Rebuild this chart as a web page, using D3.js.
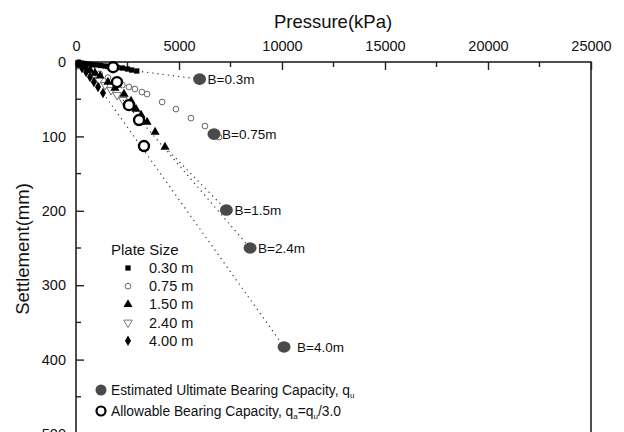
<!DOCTYPE html>
<html lang="en">
<head>
<meta charset="utf-8">
<title>Plate load test</title>
<script src="https://d3js.org/d3.v7.min.js"></script>
<style>
  body { margin: 0; background: #fff; }
  text { font-family: "Liberation Sans", Arial, sans-serif; fill: #111; }
</style>
</head>
<body>
<script>
// ---- data (pressure in kPa, settlement in mm) ----
var plateSizes = ["0.30 m", "0.75 m", "1.50 m", "2.40 m", "4.00 m"];

var p030 = [100, 250, 400, 600, 800, 1000, 1200, 1400, 1550, 1750, 2000, 2250, 2500, 2700, 2950];
var s030 = [0.7, 1.3, 2.0, 2.7, 3.4, 4.0, 4.7, 5.4, 6.1, 6.7, 7.4, 8.1, 9.4, 10.8, 12.1];

var p075 = [400, 800, 1150, 1550, 1900, 2250, 2570, 2860, 3200, 3450, 4180, 4850, 5580, 6260, 6940];
var s075 = [5, 11, 16, 21, 27, 31, 33.6, 36.3, 40.4, 43.1, 53.8, 63.3, 75.4, 86.1, 101];

var p150 = [190, 440, 680, 920, 1170, 1550, 1890, 2330, 2670, 2910, 3160, 3450, 3840, 4320];
var s150 = [2.7, 6.7, 10.8, 14.8, 18.8, 26.9, 35.0, 43.1, 52.5, 63.3, 71.3, 80.8, 94.2, 114.4];

var p240 = [290, 530, 830, 1120, 1410, 1700, 1990, 2280];
var s240 = [5.4, 10.8, 17.5, 24.2, 31.0, 37.7, 44.4, 51.1];

var p400 = [100, 290, 490, 680, 870, 1070, 1310];
var s400 = [2.7, 8.1, 13.5, 20.2, 26.9, 33.6, 41.7];

var quLabels = ["B=0.3m", "B=0.75m", "B=1.5m", "B=2.4m", "B=4.0m"];
var quP = [6000, 6700, 7300, 8450, 10100];
var quS = [23, 97, 199, 250, 383];

var qaP = [1800, 1990, 2570, 3060, 3300];
var qaS = [7, 27, 58, 78, 113];

var xTicks = [0, 5000, 10000, 15000, 20000, 25000];
var yTicks = [0, 100, 200, 300, 400, 500];

// ---- svg ----
var w = 624, h = 432;
var svg = d3.select("body").append("svg").attr("width", w).attr("height", h);

var margin = {left: 76, right: 33, top: 62, bottom: -2};
var x = d3.scaleLinear().domain([0, 25000]).range([margin.left, w - margin.right]);
var y = d3.scaleLinear().domain([0, 500]).range([margin.top, h - margin.bottom]);

// frame
svg.append("rect")
  .attr("x", x(0)).attr("y", y(0))
  .attr("width", x(25000) - x(0)).attr("height", y(500) - y(0))
  .attr("fill", "none").attr("stroke", "#222").attr("stroke-width", 1.6);

// axes with inward ticks
var xAxis = d3.axisTop(x).tickValues(xTicks).tickSizeInner(-8).tickSizeOuter(0).tickPadding(11)
  .tickFormat(d3.format("d"));
var gx = svg.append("g").attr("transform", "translate(0," + y(0) + ")").call(xAxis);
gx.append("g").selectAll("line").data(d3.range(2500, 25000, 5000)).join("line")
  .attr("x1", function(d) { return x(d); }).attr("x2", function(d) { return x(d); })
  .attr("y1", 0).attr("y2", 5).attr("stroke", "#222").attr("stroke-width", 1.4);

var yAxis = d3.axisLeft(y).tickValues(yTicks).tickSizeInner(-8).tickSizeOuter(0).tickPadding(10);
var gy = svg.append("g").attr("transform", "translate(" + x(0) + ",0)").call(yAxis);
gy.append("g").selectAll("line").data(d3.range(50, 500, 100)).join("line")
  .attr("y1", function(d) { return y(d); }).attr("y2", function(d) { return y(d); })
  .attr("x1", 0).attr("x2", 5).attr("stroke", "#222").attr("stroke-width", 1.4);

[gx, gy].forEach(function(g) {
  g.select(".domain").remove();
  g.selectAll(".tick line").attr("stroke", "#222").attr("stroke-width", 1.4);
  g.selectAll(".tick text").attr("font-size", 14.5).attr("fill", "#111")
    .attr("font-family", "Liberation Sans, Arial, sans-serif");
});

// titles
svg.append("text").attr("x", 333).attr("y", 28).attr("text-anchor", "middle")
  .attr("font-size", 18.5).text("Pressure(kPa)");
svg.append("text").attr("transform", "translate(29,249) rotate(-90)").attr("text-anchor", "middle")
  .attr("font-size", 18.5).text("Settlement(mm)");

// dotted guide lines: last measured point -> ultimate capacity
var lastPts = [[p030, s030], [p075, s075], [p150, s150], [p240, s240], [p400, s400]];
lastPts.forEach(function(ser, i) {
  if (i === 1) return;
  var n = ser[0].length - 1;
  svg.append("line")
    .attr("x1", x(ser[0][n])).attr("y1", y(ser[1][n]))
    .attr("x2", x(quP[i])).attr("y2", y(quS[i]))
    .attr("stroke", "#333").attr("stroke-width", 1.2).attr("stroke-dasharray", "1.2,4");
});

// symbols
var sym = {
  square: d3.symbol().type(d3.symbolSquare).size(28),
  circle: d3.symbol().type(d3.symbolCircle).size(26),
  tri: d3.symbol().type(d3.symbolTriangle).size(36),
  triDown: d3.symbol().type(d3.symbolTriangle).size(32),
  diamond: d3.symbol().type(d3.symbolDiamond).size(32)
};
var styles = [
  {s: sym.square, fill: "#000", stroke: "none", rot: 0},
  {s: sym.circle, fill: "#fff", stroke: "#666", rot: 0},
  {s: sym.tri, fill: "#000", stroke: "none", rot: 0},
  {s: sym.triDown, fill: "none", stroke: "#777", rot: 180},
  {s: sym.diamond, fill: "#000", stroke: "none", rot: 0}
];

function drawSeries(ps, ss, st) {
  svg.append("g").selectAll("path").data(ps).join("path")
    .attr("d", st.s)
    .attr("transform", function(d, i) { return "translate(" + x(d) + "," + y(ss[i]) + ") rotate(" + st.rot + ")"; })
    .attr("fill", st.fill).attr("stroke", st.stroke).attr("stroke-width", 1);
}
drawSeries(p075, s075, styles[1]);
drawSeries(p240, s240, styles[3]);
drawSeries(p150, s150, styles[2]);
drawSeries(p400, s400, styles[4]);
drawSeries(p030, s030, styles[0]);

// allowable capacity (open circles)
svg.append("g").selectAll("circle").data(qaP).join("circle")
  .attr("cx", function(d) { return x(d); })
  .attr("cy", function(d, i) { return y(qaS[i]); })
  .attr("r", 5).attr("fill", "#fff").attr("stroke", "#000").attr("stroke-width", 2.4);

// ultimate capacity (filled grey)
svg.append("g").selectAll("ellipse").data(quP).join("ellipse")
  .attr("cx", function(d) { return x(d); })
  .attr("cy", function(d, i) { return y(quS[i]); })
  .attr("rx", 6.5).attr("ry", 5.8).attr("fill", "#4a4a4a");
svg.append("g").selectAll("text").data(quLabels).join("text")
  .attr("x", function(d, i) { return x(quP[i]) + (i === 4 ? 13 : 8); })
  .attr("y", function(d, i) { return y(quS[i]) + 5; })
  .attr("font-size", 13.5).text(function(d) { return d; });

// legend: plate size
var lg = svg.append("g");
lg.append("text").attr("x", 111).attr("y", 255).attr("font-size", 15).text("Plate Size");
plateSizes.forEach(function(lab, i) {
  var ly = 268 + i * 18.2;
  var st = styles[i];
  lg.append("path").attr("d", st.s)
    .attr("transform", "translate(128," + ly + ") rotate(" + st.rot + ")")
    .attr("fill", st.fill).attr("stroke", st.stroke).attr("stroke-width", 1);
  lg.append("text").attr("x", 149).attr("y", ly + 5).attr("font-size", 14.5).text(lab);
});

// legend: capacities
lg.append("circle").attr("cx", 101).attr("cy", 390).attr("r", 5.5).attr("fill", "#4a4a4a");
var t1 = lg.append("text").attr("x", 111).attr("y", 395).attr("font-size", 13.8);
t1.append("tspan").text("Estimated Ultimate Bearing Capacity, q");
t1.append("tspan").attr("font-size", 8).attr("dy", 3).text("u");

lg.append("circle").attr("cx", 101).attr("cy", 411).attr("r", 4.5).attr("fill", "#fff")
  .attr("stroke", "#000").attr("stroke-width", 2.2);
var t2 = lg.append("text").attr("x", 111).attr("y", 416).attr("font-size", 13.8);
t2.append("tspan").text("Allowable Bearing Capacity, q");
t2.append("tspan").attr("font-size", 8).attr("dy", 3).text("a");
t2.append("tspan").attr("dy", -3).text("=q");
t2.append("tspan").attr("font-size", 8).attr("dy", 3).text("u");
t2.append("tspan").attr("dy", -3).text("/3.0");
</script>
</body>
</html>
